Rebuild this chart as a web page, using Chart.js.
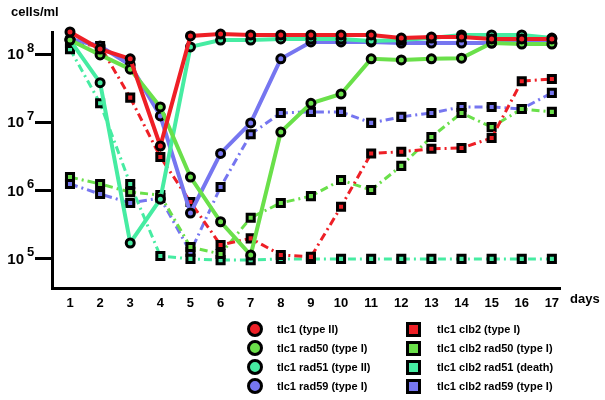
<!DOCTYPE html>
<html>
<head>
<meta charset="utf-8">
<script src="https://cdn.jsdelivr.net/npm/chart.js@4.4.0/dist/chart.umd.min.js"></script>
<style>
  body { margin: 0; background: #fff; }
  #wrap { position: relative; width: 605px; height: 400px; font-family: "Liberation Sans", Arial, sans-serif; }
  #title { position: absolute; left: 11px; top: 4px; font-weight: bold; font-size: 13px; }
  .leg { position: absolute; font-weight: bold; font-size: 11px; line-height: 14px; white-space: nowrap; }
  .mk { position: absolute; box-sizing: border-box; border: 3px solid #000; }
</style>
</head>
<body>
<div id="wrap">
  <canvas id="linechart" width="605" height="400"></canvas>
  <div id="title">cells/ml</div>
  <div id="legend"></div>
</div>
<script>
var days = [1, 2, 3, 4, 5, 6, 7, 8, 9, 10, 11, 12, 13, 14, 15, 16, 17];
var yTicks = [1e5, 1e6, 1e7, 1e8];

var tlc1 = [2.1e8, 1.18e8, 8.5e7, 4.5e6, 1.84e8, 1.96e8, 1.9e8, 1.9e8, 1.9e8, 1.9e8, 1.9e8, 1.71e8, 1.77e8, 1.77e8, 1.66e8, 1.66e8, 1.66e8];
var tlc1_rad50 = [1.6e8, 9.7e7, 6.0e7, 1.68e7, 1.58e6, 3.5e5, 1.14e5, 7.2e6, 1.9e7, 2.6e7, 8.5e7, 8.2e7, 8.5e7, 8.7e7, 1.45e8, 1.4e8, 1.4e8];
var tlc1_rad51 = [1.6e8, 3.8e7, 1.71e5, 7.5e5, 1.27e8, 1.6e8, 1.6e8, 1.66e8, 1.66e8, 1.66e8, 1.55e8, 1.6e8, 1.71e8, 1.9e8, 1.9e8, 1.9e8, 1.71e8];
var tlc1_rad59 = [1.66e8, 1.31e8, 6.9e7, 1.24e7, 4.7e5, 3.5e6, 9.8e6, 8.5e7, 1.5e8, 1.5e8, 1.5e8, 1.45e8, 1.45e8, 1.45e8, 1.45e8, 1.45e8, 1.45e8];

var clb2 = [1.45e8, 1.31e8, 2.3e7, 3.1e6, 6.8e5, 1.6e5, 2.0e5, 1.14e5, 1.07e5, 5.8e5, 3.5e6, 3.7e6, 4.1e6, 4.2e6, 5.9e6, 4.0e7, 4.3e7];
var clb2_rad50 = [1.58e6, 1.25e6, 9.5e5, 8.6e5, 1.49e5, 1.18e5, 4.0e5, 6.6e5, 8.3e5, 1.43e6, 1.02e6, 2.3e6, 6.1e6, 1.37e7, 8.5e6, 1.57e7, 1.42e7];
var clb2_rad51 = [1.18e8, 1.9e7, 1.25e6, 1.1e5, 1.0e5, 9.6e4, 9.6e4, 1.0e5, 1.0e5, 1.0e5, 1.0e5, 1.0e5, 1.0e5, 1.0e5, 1.0e5, 1.0e5, 1.0e5];
var clb2_rad59 = [1.25e6, 8.9e5, 6.6e5, 7.8e5, 1.26e5, 1.13e6, 6.7e6, 1.37e7, 1.42e7, 1.42e7, 9.8e6, 1.2e7, 1.37e7, 1.68e7, 1.68e7, 1.57e7, 2.7e7];

var names = ['tlc1 (type II)', 'tlc1 rad50 (type I)', 'tlc1 rad51 (type II)', 'tlc1 rad59 (type I)',
             'tlc1 clb2 (type I)', 'tlc1 clb2 rad50 (type I)', 'tlc1 clb2 rad51 (death)', 'tlc1 clb2 rad59 (type I)'];
var colors = ['#ee1f26', '#6ae04a', '#46eca2', '#7676f0'];

function points(values) {
  var out = [];
  for (var i in values) {
    out.push({ x: days[i], y: values[i] });
  }
  return out;
}

function solid(label, values, color) {
  return {
    label: label, data: points(values), borderColor: color, borderWidth: 4,
    pointStyle: 'circle', pointRadius: 4, pointBorderWidth: 3,
    pointBorderColor: '#000', pointBackgroundColor: color, order: 1, clip: false
  };
}

function dashed(label, values, color) {
  return {
    label: label, data: points(values), borderColor: color, borderWidth: 3,
    borderDash: [8, 4, 2, 4], pointStyle: 'rect', pointRadius: 5, pointBorderWidth: 3,
    pointBorderColor: '#000', pointBackgroundColor: color, order: 2, clip: false
  };
}

var datasets = [
  solid(names[0], tlc1, colors[0]),
  solid(names[1], tlc1_rad50, colors[1]),
  solid(names[2], tlc1_rad51, colors[2]),
  solid(names[3], tlc1_rad59, colors[3]),
  dashed(names[4], clb2, colors[0]),
  dashed(names[5], clb2_rad50, colors[1]),
  dashed(names[6], clb2_rad51, colors[2]),
  dashed(names[7], clb2_rad59, colors[3])
];

// y labels drawn as 10 with a raised exponent
var powerLabels = {
  id: 'powerLabels',
  afterDraw: function(chart) {
    var ctx = chart.ctx;
    var y = chart.scales.y;
    ctx.save();
    ctx.fillStyle = '#000';
    ctx.textBaseline = 'middle';
    for (var i in yTicks) {
      var py = y.getPixelForValue(yTicks[i]);
      ctx.font = 'bold 15px "Liberation Sans", Arial, sans-serif';
      ctx.textAlign = 'right';
      ctx.fillText('10', 24, py + 1);
      ctx.font = 'bold 13px "Liberation Sans", Arial, sans-serif';
      ctx.textAlign = 'left';
      ctx.fillText(String(Math.round(Math.log10(yTicks[i]))), 27, py - 6);
    }
    ctx.font = 'bold 13px "Liberation Sans", Arial, sans-serif';
    ctx.fillText('days', 570, 299);
    ctx.restore();
  }
};

var ctx = document.getElementById('linechart').getContext('2d');
var chart = new Chart(ctx, {
  type: 'line',
  data: { datasets: datasets },
  options: {
    responsive: false,
    animation: false,
    layout: { padding: { top: 32, right: 45, left: 0, bottom: 0 } },
    plugins: { legend: { display: false }, tooltip: { enabled: false } },
    scales: {
      x: {
        type: 'linear', min: 0.4025, max: 17.27,
        afterBuildTicks: function(scale) {
          scale.ticks = days.map(function(d) { return { value: d }; });
        },
        afterFit: function(scale) { scale.height = 112; },
        grid: { display: false, drawTicks: false },
        border: { display: true, color: '#000', width: 3 },
        ticks: {
          color: '#000', padding: 8, maxRotation: 0, autoSkip: false,
          font: { family: '"Liberation Sans", Arial, sans-serif', size: 13, weight: 'bold' }
        }
      },
      y: {
        type: 'logarithmic', min: 37500, max: 2.1e8,
        afterBuildTicks: function(scale) {
          scale.ticks = yTicks.map(function(v) { return { value: v }; });
        },
        afterFit: function(scale) { scale.width = 52; },
        grid: { drawOnChartArea: false, drawTicks: true, tickLength: 17, color: '#000', lineWidth: 3 },
        border: { display: true, color: '#000', width: 3 },
        ticks: { display: false }
      }
    }
  },
  plugins: [powerLabels]
});

// legend in two columns, built from the same names and colours
var legend = document.getElementById('legend');
var rows = [329, 348, 367, 386];
for (var i in names) {
  var col = i < 4 ? 0 : 1;
  var row = rows[i % 4];
  var mk = document.createElement('div');
  mk.className = 'mk';
  var cx = col === 0 ? 255 : 413;
  var size = col === 0 ? 16 : 15;
  mk.style.left = (cx - size / 2) + 'px';
  mk.style.top = (row - size / 2) + 'px';
  mk.style.width = size + 'px';
  mk.style.height = size + 'px';
  mk.style.background = colors[i % 4];
  if (col === 0) mk.style.borderRadius = '50%';
  legend.appendChild(mk);

  var t = document.createElement('div');
  t.className = 'leg';
  t.style.left = (col === 0 ? 277 : 437) + 'px';
  t.style.top = (row - 7) + 'px';
  t.textContent = names[i];
  legend.appendChild(t);
}
</script>
</body>
</html>
